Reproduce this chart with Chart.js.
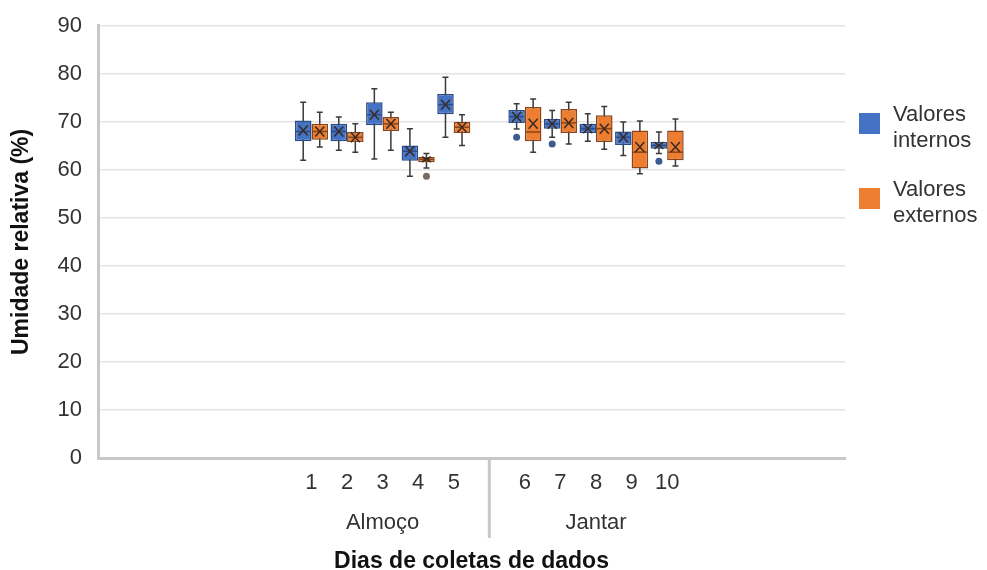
<!DOCTYPE html>
<html>
<head>
<meta charset="utf-8">
<script src="https://cdn.jsdelivr.net/npm/chart.js@4"></script>
<style>
  html, body { margin: 0; padding: 0; background: #fff; }
  #wrap { width: 987px; height: 570px; }
</style>
</head>
<body>
<div id="wrap"><canvas id="chart" width="987" height="570"></canvas></div>
<script>
// values
const days = ['1', '2', '3', '4', '5', '6', '7', '8', '9', '10'];
const dayGroups = ['Almoço', 'Almoço', 'Almoço', 'Almoço', 'Almoço', 'Jantar', 'Jantar', 'Jantar', 'Jantar', 'Jantar'];
const yTicks = [0, 10, 20, 30, 40, 50, 60, 70, 80, 90];

const internosMin = [62.0, 64.1, 62.3, 58.7, 66.8, 68.5, 66.8, 66.0, 63.0, 63.4];
const internosQ1 = [66.0, 66.0, 69.3, 61.9, 71.6, 69.8, 68.6, 67.7, 65.2, 64.4];
const internosMedian = [68.0, 68.0, 71.5, 63.9, 73.6, 71.1, 69.6, 68.6, 66.8, 65.1];
const internosQ3 = [70.3, 69.6, 74.1, 65.1, 75.8, 72.5, 70.6, 69.6, 68.0, 65.8];
const internosMax = [74.1, 71.0, 76.9, 68.6, 79.3, 73.8, 72.4, 71.7, 70.0, 67.9];
const internosMean = [68.2, 68.0, 71.5, 63.9, 73.6, 71.1, 69.6, 68.6, 66.8, 65.1];
const internosOutliers = [[], [], [], [], [], [66.8], [65.4], [], [], [61.8]];

const externosMin = [64.8, 63.7, 64.1, 60.4, 65.1, 63.7, 65.4, 64.3, 59.2, 60.8];
const externosQ1 = [66.3, 65.8, 68.1, 61.6, 67.7, 66.0, 67.7, 65.8, 60.3, 62.0];
const externosMedian = [68.0, 66.8, 69.6, 62.2, 68.9, 67.9, 69.8, 68.6, 63.7, 63.7];
const externosQ3 = [69.6, 67.9, 71.0, 62.7, 70.0, 73.1, 72.7, 71.4, 68.2, 68.2];
const externosMax = [72.0, 69.6, 72.0, 63.4, 71.5, 74.8, 74.1, 73.2, 70.2, 70.6];
const externosMean = [68.0, 66.8, 69.6, 62.2, 68.9, 69.6, 69.8, 68.6, 64.8, 64.8];
const externosOutliers = [[], [], [], [58.7], [], [], [], [], [], []];

const FONT = "'Liberation Sans', Arial, sans-serif";

// empty slots left/right of the data and between the two groups
const leadSlots = 6, gapSlots = 1, trailSlots = 5;
const xLabels = [];
const slotOfDay = [];
for (let i = 0; i < leadSlots; i++) xLabels.push('');
days.forEach((d, i) => {
    if (i > 0 && dayGroups[i] !== dayGroups[i - 1]) {
        for (let g = 0; g < gapSlots; g++) xLabels.push('');
    }
    slotOfDay.push(xLabels.length);
    xLabels.push(d);
});
for (let i = 0; i < trailSlots; i++) xLabels.push('');

const toSlots = (arr) => {
    const out = xLabels.map(() => null);
    arr.forEach((v, i) => { out[slotOfDay[i]] = v; });
    return out;
};

const series = [
    { label: 'Valores internos', fill: '#4472c4', edge: '#2b4c86', outlier: '#3c5a94',
      min: internosMin, q1: internosQ1, median: internosMedian, q3: internosQ3,
      max: internosMax, mean: internosMean, outliers: internosOutliers },
    { label: 'Valores externos', fill: '#ed7d31', edge: '#8a4418', outlier: '#7a6a60',
      min: externosMin, q1: externosQ1, median: externosMedian, q3: externosQ3,
      max: externosMax, mean: externosMean, outliers: externosOutliers }
];

const boxPlugin = {
    id: 'boxes',
    beforeDatasetsDraw(chart) {
        const ctx = chart.ctx, y = chart.scales.y;
        series.forEach((s, di) => {
            const meta = chart.getDatasetMeta(di);
            s.min.forEach((v, i) => {
                const bar = meta.data[slotOfDay[i]];
                const cap = bar.width * 0.18;
                ctx.save();
                ctx.strokeStyle = '#3a3a3a';
                ctx.lineWidth = 1.5;
                ctx.beginPath();
                ctx.moveTo(bar.x, y.getPixelForValue(s.max[i]));
                ctx.lineTo(bar.x, y.getPixelForValue(s.min[i]));
                [s.max[i], s.min[i]].forEach(w => {
                    const py = y.getPixelForValue(w);
                    ctx.moveTo(bar.x - cap, py);
                    ctx.lineTo(bar.x + cap, py);
                });
                ctx.stroke();
                ctx.restore();
            });
        });
    },
    afterDatasetsDraw(chart) {
        const ctx = chart.ctx, y = chart.scales.y;
        series.forEach((s, di) => {
            const meta = chart.getDatasetMeta(di);
            s.min.forEach((v, i) => {
                const bar = meta.data[slotOfDay[i]];
                const half = bar.width / 2;
                ctx.save();
                ctx.strokeStyle = s.edge;
                ctx.lineWidth = 1.5;
                // median
                const my = y.getPixelForValue(s.median[i]);
                ctx.beginPath();
                ctx.moveTo(bar.x - half + 1, my);
                ctx.lineTo(bar.x + half - 1, my);
                ctx.stroke();
                // mean marker
                const ay = y.getPixelForValue(s.mean[i]);
                const r = Math.min(5, Math.abs(y.getPixelForValue(s.q1[i]) - y.getPixelForValue(s.q3[i])) / 2);
                ctx.strokeStyle = '#3a2a20';
                ctx.beginPath();
                ctx.moveTo(bar.x - 4.5, ay - r);
                ctx.lineTo(bar.x + 4.5, ay + r);
                ctx.moveTo(bar.x + 4.5, ay - r);
                ctx.lineTo(bar.x - 4.5, ay + r);
                ctx.stroke();
                // outliers
                s.outliers[i].forEach(o => {
                    ctx.fillStyle = s.outlier;
                    ctx.beginPath();
                    ctx.arc(bar.x, y.getPixelForValue(o), 3.5, 0, Math.PI * 2);
                    ctx.fill();
                });
                ctx.restore();
            });
        });
    },
    afterDraw(chart) {
        const ctx = chart.ctx, x = chart.scales.x, area = chart.chartArea;
        // group labels under the day numbers, with a divider between groups
        ctx.save();
        ctx.font = '22px ' + FONT;
        ctx.fillStyle = '#333';
        ctx.textAlign = 'center';
        ctx.textBaseline = 'middle';
        const groups = [...new Set(dayGroups)];
        groups.forEach((g, gi) => {
            const px = days.map((d, i) => i).filter(i => dayGroups[i] === g)
                .map(i => x.getPixelForValue(slotOfDay[i]));
            const cx = px.reduce((a, b) => a + b, 0) / px.length;
            ctx.fillText(g, cx, area.bottom + 65);
            if (gi > 0) {
                const prev = days.map((d, i) => i).filter(i => dayGroups[i] === groups[gi - 1]).pop();
                const first = days.indexOf(days.find((d, i) => dayGroups[i] === g));
                const dx = (x.getPixelForValue(slotOfDay[prev]) + x.getPixelForValue(slotOfDay[first])) / 2;
                ctx.strokeStyle = '#c8c8c8';
                ctx.lineWidth = 3;
                ctx.beginPath();
                ctx.moveTo(dx, area.bottom);
                ctx.lineTo(dx, area.bottom + 80);
                ctx.stroke();
            }
        });
        // legend
        ctx.textAlign = 'left';
        series.forEach((s, i) => {
            const top = 113 + i * 75;
            ctx.fillStyle = s.fill;
            ctx.fillRect(area.right + 14, top, 21, 21);
            ctx.fillStyle = '#333';
            const words = s.label.split(' ');
            ctx.fillText(words[0], area.right + 48, top + 2);
            ctx.fillText(words[1], area.right + 48, top + 28);
        });
        ctx.restore();
    }
};

new Chart(document.getElementById('chart').getContext('2d'), {
    type: 'bar',
    data: {
        labels: xLabels,
        datasets: series.map(s => ({
            label: s.label,
            data: toSlots(s.q1.map((q, i) => [q, s.q3[i]])),
            backgroundColor: s.fill,
            borderColor: s.edge,
            borderWidth: 1.5,
            borderSkipped: false,
            barPercentage: 1,
            categoryPercentage: 0.93
        }))
    },
    options: {
        responsive: false,
        animation: false,
        layout: { autoPadding: false, padding: { top: 23, right: 142, left: 8, bottom: 0 } },
        plugins: { legend: { display: false }, tooltip: { enabled: false } },
        scales: {
            x: {
                type: 'category',
                offset: false,
                grid: { display: false },
                border: { display: true, color: '#c8c8c8', width: 3 },
                ticks: { autoSkip: false, maxRotation: 0, padding: 4, color: '#333',
                         font: { family: FONT, size: 22 } },
                title: { display: true, text: 'Dias de coletas de dados', color: '#111',
                         padding: { top: 47, bottom: -5 },
                         font: { family: FONT, size: 23, weight: 'bold' } }
            },
            y: {
                min: 0,
                max: 90,
                afterBuildTicks: (axis) => { axis.ticks = yTicks.map(v => ({ value: v })); },
                grid: { color: '#e4e4e4', lineWidth: 1.5, drawTicks: false },
                border: { display: true, color: '#c8c8c8', width: 3 },
                ticks: { padding: 16, color: '#333', font: { family: FONT, size: 22, lineHeight: 0.9 } },
                title: { display: true, text: 'Umidade relativa (%)', color: '#111',
                         padding: { top: 0, bottom: 6 },
                         font: { family: FONT, size: 23, weight: 'bold' } }
            }
        }
    },
    plugins: [boxPlugin]
});
</script>
</body>
</html>
